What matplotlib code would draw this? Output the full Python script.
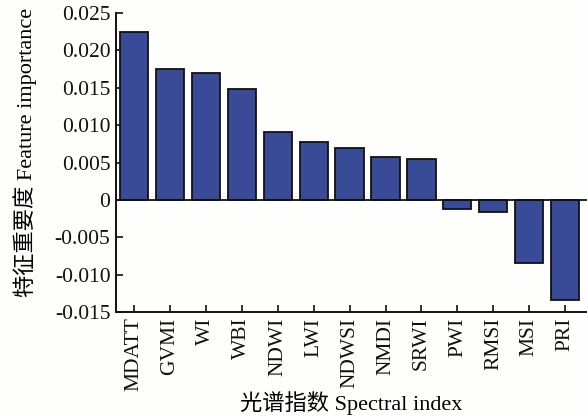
import matplotlib
matplotlib.use("Agg")
import matplotlib.pyplot as plt
import numpy as np
from matplotlib.ticker import FuncFormatter

plt.rcParams['font.family'] = ['Liberation Serif', 'Noto Sans CJK SC']

# spectral indices and their permutation importance
indices = ["MDATT", "GVMI", "WI", "WBI", "NDWI", "LWI", "NDWSI",
           "NMDI", "SRWI", "PWI", "RMSI", "MSI", "PRI"]
importance = [0.0224, 0.0175, 0.0170, 0.0148, 0.0091, 0.0077, 0.0069,
              0.0058, 0.0055, -0.0012, -0.0016, -0.0084, -0.0134]
yticks = [-0.015, -0.010, -0.005, 0, 0.005, 0.010, 0.015, 0.020, 0.025]

fig = plt.figure(figsize=(5.87, 4.17), dpi=100)
fig.patch.set_facecolor("#fefefc")
ax = fig.add_axes([116 / 587, 1 - 312 / 417, 1 - 116 / 587, (312 - 13) / 417])
ax.set_facecolor("#fefefc")

x = np.arange(len(indices))
ax.bar(x, importance, width=0.78, color="#394b96", edgecolor="#111111",
       linewidth=1.3, zorder=2)
ax.axhline(0, color="#111111", linewidth=1.3, zorder=3)

ax.set_xlim(-0.49, 12.6)
ax.set_ylim(-0.015, 0.025)
ax.set_yticks(yticks)
ax.yaxis.set_major_formatter(
    FuncFormatter(lambda v, p: "0" if abs(v) < 1e-9 else f"{v:.3f}"))
ax.set_xticks(x)
ax.set_xticklabels(indices, rotation=90)

for side in ["top", "right"]:
    ax.spines[side].set_visible(False)
for side in ["left", "bottom"]:
    ax.spines[side].set_linewidth(1.4)
    ax.spines[side].set_color("#111111")

ax.tick_params(axis="both", direction="in", length=5, width=1.2,
               labelsize=15.5, colors="#111111")
ax.tick_params(axis="y", pad=4)
ax.tick_params(axis="x", pad=4)

ax.set_ylabel("特征重要度 Feature importance", fontsize=16)
ax.yaxis.set_label_coords(-0.168, 0.535)
ax.set_xlabel("光谱指数 Spectral index", fontsize=16, labelpad=0)

fig.savefig("out.png", dpi=100, facecolor=fig.get_facecolor())
